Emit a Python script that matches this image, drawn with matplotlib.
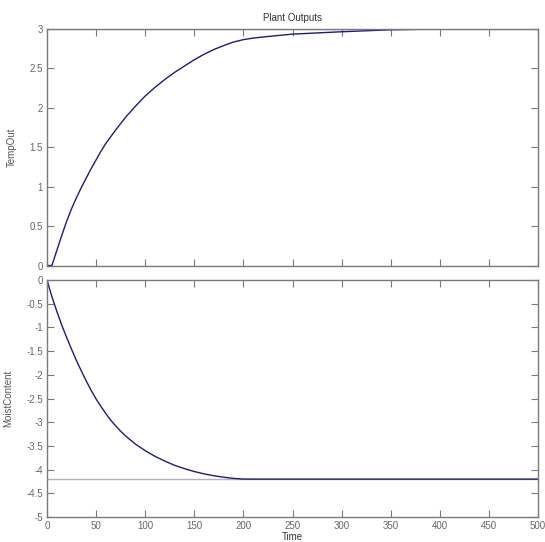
import matplotlib
matplotlib.use("Agg")
import matplotlib.pyplot as plt

# values
t_temp = [0, 5, 10, 15, 20, 25, 30, 35, 40, 45, 50, 55, 60, 70, 80, 90, 100,
          110, 120, 130, 140, 150, 160, 170, 180, 190, 200, 210, 225, 250,
          275, 300, 350, 400, 450, 500]
temp_out = [0, 0, 0.19, 0.38, 0.56, 0.72, 0.86, 0.99, 1.11, 1.23, 1.34, 1.45,
            1.55, 1.72, 1.88, 2.02, 2.15, 2.26, 2.36, 2.45, 2.53, 2.61, 2.68,
            2.74, 2.79, 2.835, 2.865, 2.885, 2.905, 2.935, 2.95, 2.965, 2.99,
            3.0, 3.0, 3.0]

t_moist = [0, 5, 10, 15, 20, 25, 30, 35, 40, 45, 50, 55, 60, 65, 70, 75, 80,
           90, 100, 110, 120, 130, 140, 150, 160, 170, 180, 190, 200, 500]
moist = [0, -0.35, -0.66, -0.95, -1.21, -1.46, -1.7, -1.92, -2.13, -2.33,
         -2.51, -2.67, -2.82, -2.96, -3.08, -3.19, -3.29, -3.46, -3.6, -3.72,
         -3.82, -3.91, -3.98, -4.04, -4.09, -4.13, -4.16, -4.185, -4.2, -4.2]

temp_ref = 3.0
moist_ref = -4.2

x_ticks = [0, 50, 100, 150, 200, 250, 300, 350, 400, 450, 500]
temp_ticks = [0, 0.5, 1, 1.5, 2, 2.5, 3]
moist_ticks = [-5, -4.5, -4, -3.5, -3, -2.5, -2, -1.5, -1, -0.5, 0]

plt.rcParams['font.family'] = ['Liberation Sans', 'DejaVu Sans']

line_col = '#1c1c7a'
ref_col = '#b4b4b4'
axis_col = '#7a7a7a'
tick_txt = '#666666'

fig = plt.figure(figsize=(5.45, 5.42), dpi=100)
ax1 = fig.add_axes([0.0862, 0.5101, 0.901, 0.4364])
ax2 = fig.add_axes([0.0862, 0.0461, 0.901, 0.4373])

for ax in (ax1, ax2):
    ax.set_xlim(0, 500)
    ax.set_xticks(x_ticks)
    for s in ax.spines.values():
        s.set_color(axis_col)
        s.set_linewidth(1.0)
    ax.tick_params(direction='in', top=True, right=True, length=5,
                   color=axis_col, labelcolor=tick_txt, labelsize=7, pad=3)

ax1.axhline(temp_ref, color=ref_col, lw=1.0)
ax1.plot(t_temp, temp_out, color=line_col, lw=1.0)
ax1.set_ylim(0, 3)
ax1.set_yticks(temp_ticks)
ax1.set_yticklabels(['0', '0.5', '1', '1.5', '2', '2.5', '3'])
ax1.tick_params(labelbottom=False)
ax1.set_ylabel('TempOut', fontsize=7, color='#555555')
ax1.yaxis.set_label_coords(-0.061, 0.5)
ax1.set_title('Plant Outputs', fontsize=7, color='#333333', pad=6)

ax2.axhline(moist_ref, color=ref_col, lw=1.0)
ax2.plot(t_moist, moist, color=line_col, lw=1.0)
ax2.set_ylim(-5, 0)
ax2.set_yticks(moist_ticks)
ax2.set_yticklabels(['-5', '-4.5', '-4', '-3.5', '-3', '-2.5', '-2', '-1.5',
                     '-1', '-0.5', '0'])
ax2.set_ylabel('MoistContent', fontsize=7, color='#555555')
ax2.yaxis.set_label_coords(-0.069, 0.5)
ax2.set_xlabel('Time', fontsize=7, color='#333333', labelpad=0.5)

fig.savefig('out.png', dpi=100)
